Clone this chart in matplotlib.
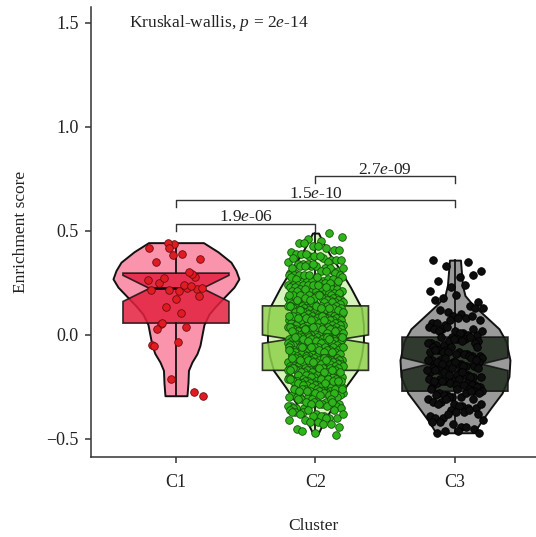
import numpy as np
import matplotlib
matplotlib.use("Agg")
import matplotlib.pyplot as plt
from matplotlib import cbook

plt.rcParams["font.family"] = ["Liberation Serif", "DejaVu Serif"]
plt.rcParams["mathtext.fontset"] = "custom"
plt.rcParams["mathtext.rm"] = "Liberation Serif"
plt.rcParams["mathtext.it"] = "Liberation Serif:italic"

clusters = ["C1", "C2", "C3"]

c1_scores = [
    0.216, -0.292, 0.389, 0.052, 0.281, 0.437, -0.048, 0.228, 0.133, 0.365,
    0.210, 0.027, 0.295, -0.213, 0.420, 0.241, 0.059, 0.220, 0.173, -0.053,
    0.305, 0.444, 0.228, 0.104, 0.248, -0.272, 0.385, 0.216, 0.037, 0.276,
    0.188, -0.032, 0.349, 0.236, 0.417, 0.262,
]

c2_scores = [
    0.49, 0.46, 0.47, 0.45,
    0.44, 0.41, 0.43, 0.40, 0.42, 0.44, 0.41, 0.43,
    0.39, 0.36, 0.38, 0.35, 0.37, 0.39, 0.36, 0.38, 0.37, 0.35, 0.39, 0.36, 0.38,
    0.34, 0.31, 0.33, 0.30, 0.32, 0.34, 0.31, 0.33, 0.30, 0.32, 0.34, 0.32, 0.31,
    0.33, 0.30, 0.34, 0.32, 0.31, 0.33,
    0.29, 0.26, 0.28, 0.25, 0.27, 0.29, 0.26, 0.28, 0.25, 0.27, 0.29, 0.27, 0.26,
    0.28, 0.25, 0.29, 0.27, 0.26, 0.28, 0.25, 0.29, 0.26, 0.28, 0.27, 0.25, 0.29,
    0.24, 0.21, 0.23, 0.20, 0.22, 0.24, 0.21, 0.23, 0.20, 0.22, 0.24, 0.22, 0.21,
    0.23, 0.20, 0.24, 0.22, 0.21, 0.23, 0.20, 0.24, 0.21, 0.23, 0.22, 0.20, 0.24,
    0.21, 0.23, 0.22, 0.20, 0.24, 0.21,
    0.19, 0.16, 0.18, 0.15, 0.17, 0.18, 0.15, 0.19, 0.17, 0.16, 0.17, 0.19, 0.16,
    0.18, 0.15, 0.16, 0.18, 0.15, 0.17, 0.19, 0.15, 0.17, 0.19, 0.16, 0.18, 0.19,
    0.16, 0.18, 0.15, 0.17, 0.18, 0.15, 0.19, 0.17, 0.16, 0.17, 0.19, 0.16,
    0.14, 0.11, 0.13, 0.10, 0.12, 0.13, 0.10, 0.14, 0.12, 0.11, 0.12, 0.14, 0.11,
    0.13, 0.10, 0.11, 0.13, 0.10, 0.12, 0.14, 0.10, 0.12, 0.14, 0.11, 0.13, 0.14,
    0.11, 0.13, 0.10, 0.12, 0.13, 0.10, 0.14, 0.12, 0.11, 0.12, 0.14, 0.11, 0.13,
    0.10, 0.11, 0.13, 0.12,
    0.09, 0.06, 0.08, 0.05, 0.07, 0.08, 0.05, 0.09, 0.07, 0.06, 0.07, 0.09, 0.06,
    0.08, 0.05, 0.06, 0.08, 0.05, 0.07, 0.09, 0.05, 0.07, 0.09, 0.06, 0.08, 0.09,
    0.06, 0.08, 0.05, 0.07, 0.08, 0.05, 0.09, 0.07, 0.06, 0.07, 0.09, 0.06, 0.08,
    0.05, 0.06, 0.08, 0.05, 0.07, 0.09, 0.07,
    0.04, 0.01, 0.03, 0.00, 0.02, 0.03, 0.00, 0.04, 0.02, 0.01, 0.02, 0.04, 0.01,
    0.03, 0.00, 0.01, 0.03, 0.00, 0.02, 0.04, 0.00, 0.02, 0.04, 0.01, 0.03, 0.04,
    0.01, 0.03, 0.00, 0.02, 0.03, 0.00, 0.04, 0.02, 0.01, 0.02, 0.04, 0.01, 0.03,
    0.00, 0.01, 0.03, 0.00, 0.02, 0.04, 0.02, 0.01, 0.03,
    -0.01, -0.04, -0.02, -0.05, -0.03, -0.02, -0.05, -0.01, -0.03, -0.04, -0.03,
    -0.01, -0.04, -0.02, -0.05, -0.04, -0.02, -0.05, -0.03, -0.01, -0.05, -0.03,
    -0.01, -0.04, -0.02, -0.01, -0.04, -0.02, -0.05, -0.03, -0.02, -0.05, -0.01,
    -0.03, -0.04, -0.03, -0.01, -0.04, -0.02, -0.05, -0.04, -0.02, -0.05, -0.03,
    -0.01, -0.02, -0.03, -0.01, -0.04,
    -0.06, -0.09, -0.07, -0.10, -0.08, -0.07, -0.10, -0.06, -0.08, -0.09, -0.08,
    -0.06, -0.09, -0.07, -0.10, -0.09, -0.07, -0.10, -0.08, -0.06, -0.10, -0.08,
    -0.06, -0.09, -0.07, -0.06, -0.09, -0.07, -0.10, -0.08, -0.07, -0.10, -0.06,
    -0.08, -0.09, -0.08, -0.06, -0.09, -0.07, -0.10, -0.09, -0.07, -0.10, -0.08,
    -0.06, -0.07, -0.08, -0.06,
    -0.11, -0.14, -0.12, -0.15, -0.13, -0.12, -0.15, -0.11, -0.13, -0.14, -0.13,
    -0.11, -0.14, -0.12, -0.15, -0.14, -0.12, -0.15, -0.13, -0.11, -0.15, -0.13,
    -0.11, -0.14, -0.12, -0.11, -0.14, -0.12, -0.15, -0.13, -0.12, -0.15, -0.11,
    -0.13, -0.14, -0.13, -0.11, -0.14, -0.12, -0.15, -0.14, -0.12, -0.15, -0.13,
    -0.11, -0.12,
    -0.16, -0.19, -0.17, -0.20, -0.18, -0.17, -0.20, -0.16, -0.18, -0.19, -0.18,
    -0.16, -0.19, -0.17, -0.20, -0.19, -0.17, -0.20, -0.18, -0.16, -0.20, -0.18,
    -0.16, -0.19, -0.17, -0.16, -0.19, -0.17, -0.20, -0.18, -0.17, -0.20, -0.16,
    -0.18, -0.19, -0.18, -0.16, -0.19, -0.17, -0.20, -0.17, -0.18,
    -0.21, -0.24, -0.22, -0.25, -0.23, -0.22, -0.25, -0.21, -0.23, -0.24, -0.23,
    -0.21, -0.24, -0.22, -0.25, -0.24, -0.22, -0.25, -0.23, -0.21, -0.25, -0.23,
    -0.21, -0.24, -0.22, -0.21, -0.24, -0.22, -0.25, -0.23, -0.22, -0.25, -0.21,
    -0.23, -0.24, -0.22,
    -0.26, -0.29, -0.27, -0.30, -0.28, -0.27, -0.30, -0.26, -0.28, -0.29, -0.28,
    -0.26, -0.29, -0.27, -0.30, -0.29, -0.27, -0.30, -0.28, -0.26, -0.30, -0.28,
    -0.26, -0.29, -0.27, -0.26, -0.29, -0.27, -0.28,
    -0.31, -0.34, -0.32, -0.35, -0.33, -0.32, -0.35, -0.31, -0.33, -0.34, -0.33,
    -0.31, -0.34, -0.32, -0.35, -0.34, -0.32, -0.35, -0.33, -0.31, -0.32, -0.33,
    -0.36, -0.39, -0.37, -0.40, -0.38, -0.37, -0.40, -0.36, -0.38, -0.39, -0.38,
    -0.36, -0.39, -0.37, -0.40,
    -0.41, -0.44, -0.42, -0.45, -0.43, -0.42, -0.41, -0.43,
    -0.46, -0.48, -0.47,
]

c3_scores = [
    0.36, 0.35, 0.33, 0.31, 0.28, 0.26, 0.29, 0.23, 0.21, 0.24,
    0.18, 0.16, 0.19, 0.17, 0.14, 0.11, 0.13, 0.10, 0.12, 0.13,
    0.09, 0.06, 0.08, 0.05, 0.07, 0.08, 0.06, 0.09, 0.07,
    0.04, 0.01, 0.03, 0.00, 0.02, 0.03, 0.00, 0.04, 0.02, 0.01, 0.02, 0.03,
    -0.01, -0.04, -0.02, -0.05, -0.03, -0.02, -0.05, -0.01, -0.03, -0.04, -0.03,
    -0.01, -0.04, -0.02,
    -0.06, -0.09, -0.07, -0.10, -0.08, -0.07, -0.10, -0.06, -0.08, -0.09, -0.08,
    -0.06, -0.09, -0.07, -0.10, -0.08,
    -0.11, -0.14, -0.12, -0.15, -0.13, -0.12, -0.15, -0.11, -0.13, -0.14, -0.13,
    -0.11, -0.14, -0.12, -0.15, -0.14, -0.12, -0.13,
    -0.16, -0.19, -0.17, -0.20, -0.18, -0.17, -0.20, -0.16, -0.18, -0.19, -0.18,
    -0.16, -0.19, -0.17, -0.20, -0.19, -0.17, -0.18,
    -0.21, -0.24, -0.22, -0.25, -0.23, -0.22, -0.25, -0.21, -0.23, -0.24, -0.23,
    -0.21, -0.24, -0.22, -0.25, -0.24, -0.22,
    -0.26, -0.29, -0.27, -0.30, -0.28, -0.27, -0.30, -0.26, -0.28, -0.29, -0.28,
    -0.26, -0.29, -0.27, -0.30,
    -0.31, -0.34, -0.32, -0.35, -0.33, -0.32, -0.35, -0.31, -0.33, -0.34, -0.33,
    -0.31,
    -0.36, -0.39, -0.37, -0.40, -0.38, -0.37, -0.40, -0.36, -0.38,
    -0.41, -0.44, -0.42, -0.45, -0.43, -0.42, -0.44,
    -0.46, -0.47, -0.46, -0.47,
]

# violin outlines: score levels and relative density at each level
c1_levels = [-0.292, -0.23, -0.17, -0.13, -0.09, -0.05, 0.0, 0.05, 0.10, 0.14,
             0.19, 0.23, 0.27, 0.31, 0.35, 0.40, 0.444]
c1_density = [11, 12, 12.5, 16, 21, 24, 26, 28, 33, 40, 50, 58, 63, 60, 55, 42, 27.5]
c2_levels = [-0.48, -0.41, -0.33, -0.25, -0.17, -0.10, -0.03, 0.05, 0.13, 0.23,
             0.31, 0.39, 0.45, 0.49]
c2_density = [2, 9, 19, 30, 42, 46, 48, 48, 46, 35, 25, 14, 7, 3]
c3_levels = [-0.47, -0.41, -0.35, -0.28, -0.20, -0.12, -0.03, 0.03, 0.07, 0.11,
             0.15, 0.19, 0.24, 0.30, 0.36]
c3_density = [19, 27, 36, 47, 54, 55, 51, 44, 35, 26, 17, 10, 7.5, 6.5, 5.5]

# pairwise comparisons (Wilcoxon p-values)
pairs = [(0, 1), (0, 2), (1, 2)]
pair_labels = ["1.9$e$-06", "1.5$e$-10", "2.7$e$-09"]
global_label = "Kruskal-wallis, $p$ = 2$e$-14"

violin_colors = ["#F994AC", "#D6F5BC", "#9A9A9A"]
box_colors = ["#E3203F", "#8DD14B", "#1F291D"]
point_colors = ["#E01B22", "#2FB51B", "#0D0D0D"]
point_edges = ["#6E0C10", "#15500B", "#000000"]

scores = [np.array(c1_scores), np.array(c2_scores), np.array(c3_scores)]
levels = [c1_levels, c2_levels, c3_levels]
densities = [c1_density, c2_density, c3_density]
positions = np.arange(1, len(clusters) + 1)

fig = plt.figure(figsize=(5.36, 5.37), dpi=100)
ax = fig.add_axes([0.1698, 0.149, 0.8302, 0.838])

# violins
full_width = 0.903
dmax = max(max(d) for d in densities)
vpstats = []
for lv, dn, sc in zip(levels, densities, scores):
    vpstats.append(dict(coords=np.array(lv), vals=np.array(dn, dtype=float),
                        mean=sc.mean(), median=np.median(sc),
                        min=min(lv), max=max(lv)))
widths = [full_width * max(d) / dmax for d in densities]
vp = ax.violin(vpstats, positions=positions, widths=widths,
               showmeans=False, showextrema=False, showmedians=False)
for body, col in zip(vp["bodies"], violin_colors):
    body.set_facecolor(col)
    body.set_edgecolor("#111111")
    body.set_linewidth(1.4)
    body.set_alpha(1)
    body.set_zorder(1)

# notched boxes
bstats = cbook.boxplot_stats(scores, whis=(0, 100))
bp = ax.bxp(bstats, positions=positions, widths=0.76, shownotches=True,
            patch_artist=True, showcaps=False, showfliers=False,
            manage_ticks=False, zorder=2,
            boxprops=dict(edgecolor="#111111", linewidth=1.2),
            whiskerprops=dict(color="#111111", linewidth=1.3),
            medianprops=dict(color="#111111", linewidth=2.0))
for patch, col in zip(bp["boxes"], box_colors):
    patch.set_facecolor(col)
    patch.set_alpha(0.85)
    patch.set_edgecolor("#111111")

# jittered points
golden = 0.6180339887
for k, (sc, pos) in enumerate(zip(scores, positions)):
    idx = np.arange(len(sc))
    offs = 0.2 * (2 * ((idx * golden + 0.37 * (k + 1)) % 1.0) - 1)
    ax.scatter(pos + offs, sc, s=30, color=point_colors[k],
               edgecolors=point_edges[k], linewidths=0.6, zorder=3)

# comparison brackets
line_col = "#333333"
tip = 0.034
for j, ((a, b), lab) in enumerate(zip(pairs, pair_labels)):
    yb = 0.534 + 0.115 * j
    xa, xb = positions[a], positions[b]
    ax.plot([xa, xa, xb, xb], [yb - tip, yb, yb, yb - tip],
            color=line_col, lw=1.0, zorder=4)
    ax.text((xa + xb) / 2, yb + 0.012, lab, ha="center", va="baseline",
            fontsize=12.5, color="#222222")

ax.text(0.66, 1.5, global_label, ha="left", va="center", fontsize=12.5,
        color="#222222")

ax.set_xlim(0.391, 3.581)
ax.set_ylim(-0.5865, 1.577)
ax.set_xticks(positions)
ax.set_xticklabels(clusters)
ax.set_yticks([-0.5, 0.0, 0.5, 1.0, 1.5])
ax.set_xlabel("Cluster", fontsize=12.5, labelpad=20, color="#222222")
ax.set_ylabel("Enrichment score", fontsize=12.5, labelpad=12, color="#222222")

for side in ["top", "right"]:
    ax.spines[side].set_visible(False)
for side in ["left", "bottom"]:
    ax.spines[side].set_color("#333333")
    ax.spines[side].set_linewidth(1.1)
ax.tick_params(direction="out", length=4, width=1.1, color="#333333",
               labelsize=13, labelcolor="#222222")
ax.tick_params(axis="x", pad=8)
ax.tick_params(axis="y", pad=5)

fig.savefig("out.png", dpi=100)
